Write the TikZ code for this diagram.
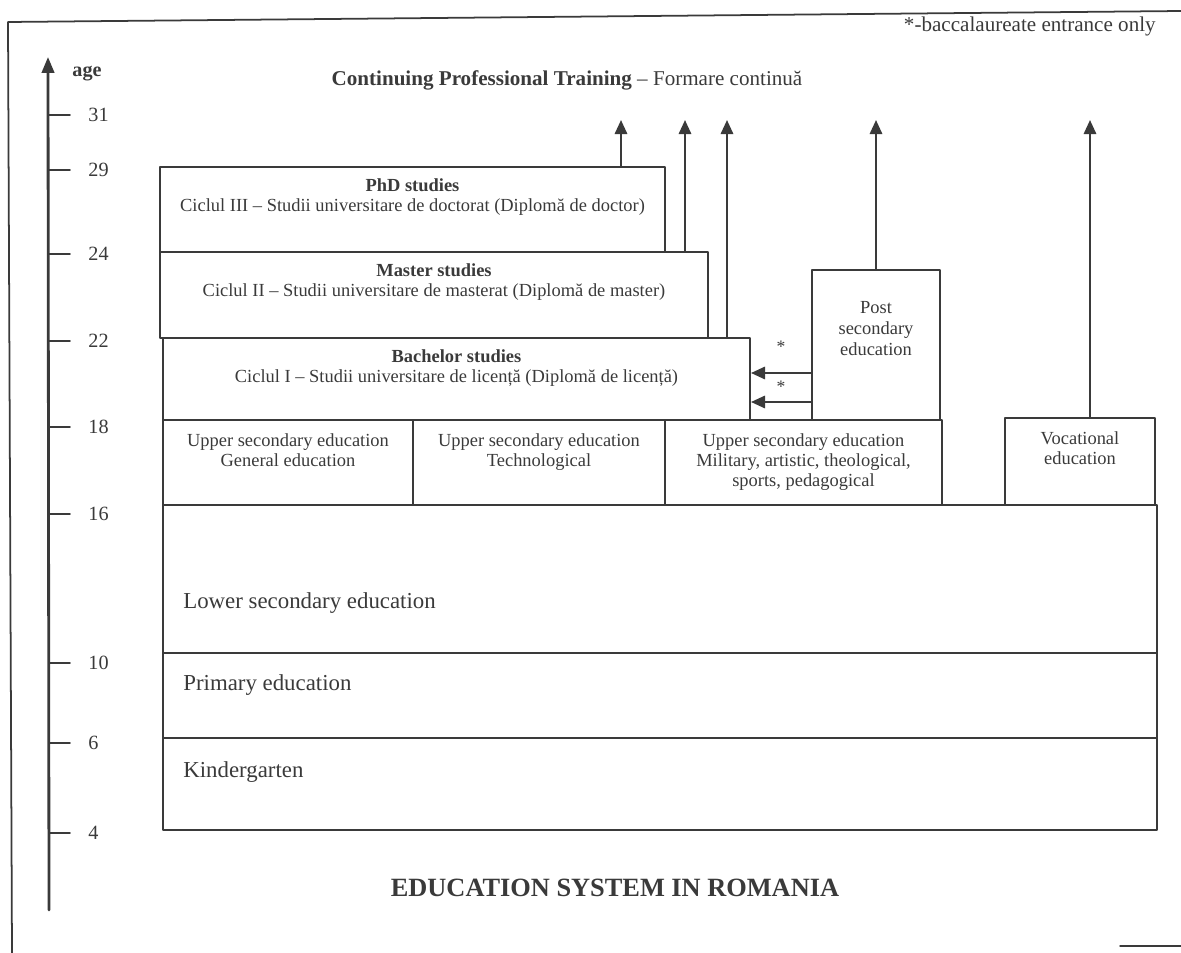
\documentclass[tikz,border=0pt]{standalone}
\usepackage{fontspec}
\setmainfont{Liberation Serif}
\usetikzlibrary{arrows.meta,positioning,fit}
\definecolor{ink}{HTML}{3A3A3A}
\tikzset{
  stage/.style={draw=ink, line width=1.1pt, inner sep=0pt},
  txt/.style={font=\fontsize{10.5}{11.5}\selectfont, align=center, inner sep=0pt, anchor=north, text=ink},
  big/.style={font=\fontsize{13}{15}\selectfont, inner sep=0pt, anchor=west, text=ink},
  up/.style={draw=ink, line width=1.3pt, -{Triangle[width=7pt,length=8pt]}},
  agetick/.style={font=\fontsize{11.5}{13}\selectfont, inner sep=0pt, text=ink}
}
\begin{document}
\begin{tikzpicture}[x=0.02cm, y=-0.02cm, line join=round, line cap=round]
\useasboundingbox (0,0) rectangle (1181,953);
% frame of the scanned page
\draw[ink, line width=1pt] (1181,11) -- (8,22) -- (12,953);
\draw[ink, line width=0.8pt] (1120,946) -- (1181,946);
% age axis
\draw[ink, line width=1.6pt, -{Triangle[width=7pt,length=9pt]}] (49,910) -- (48,57);
\node[agetick] (agelbl) at (87,74) {\textbf{age}};
\foreach \y/\a in {115/31,170/29,254/24,341/22,427/18,514/16,663/10,743/6,833/4}
  \draw[ink, line width=1pt] (49,\y) -- (70,\y) node[agetick, right=10pt] (age\a) {\a};
% university
\node[stage, fit={(160,167)(665,252)}] (phd) {};
\node[stage, fit={(160,252)(708,338)}] (master) {};
\node[stage, fit={(163,338)(750,420)}] (bach) {};
\node[txt] (phdtxt) at ([yshift=-7pt]phd.north) {\textbf{PhD studies}\\Ciclul III – Studii universitare de doctorat (Diplomă de doctor)};
\node[txt] (mastertxt) at ([yshift=-7pt]master.north) {\textbf{Master studies}\\Ciclul II – Studii universitare de masterat (Diplomă de master)};
\node[txt] (bachtxt) at ([yshift=-7pt]bach.north) {\textbf{Bachelor studies}\\Ciclul I – Studii universitare de licență (Diplomă de licență)};
% post secondary and vocational
\node[stage, fit={(812,270)(940,420)}] (post) {};
\node[txt, font=\fontsize{10.5}{12}\selectfont] (posttxt) at ([yshift=-18pt]post.north) {Post\\secondary\\education};
\node[stage, fit={(1005,418)(1155,505)}] (voc) {};
\node[txt] (voctxt) at ([yshift=-8pt]voc.north) {Vocational\\education};
% upper secondary
\node[stage, fit={(163,420)(413,505)}] (usgen) {};
\node[stage, fit={(413,420)(665,505)}] (ustech) {};
\node[stage, fit={(665,420)(942,505)}] (usmil) {};
\node[txt] (usgentxt) at ([yshift=-8pt]usgen.north) {Upper secondary education\\General education};
\node[txt] (ustechtxt) at ([yshift=-8pt]ustech.north) {Upper secondary education\\Technological};
\node[txt] (usmiltxt) at ([yshift=-8pt]usmil.north) {Upper secondary education\\Military, artistic, theological,\\sports, pedagogical};
% compulsory levels
\node[stage, fit={(163,505)(1157,653)}] (lower) {};
\node[stage, fit={(163,653)(1157,738)}] (primary) {};
\node[stage, fit={(163,738)(1157,830)}] (kinder) {};
\node[big] (lowertxt) at (183,603) {Lower secondary education};
\node[big] (primarytxt) at (183,685) {Primary education};
\node[big] (kindertxt) at (183,772) {Kindergarten};
% continuing training arrows
\coordinate (top) at (0,120);
\draw[up] (phd.north -| 621,0) -- (top -| 621,0);
\draw[up] (master.north -| 685,0) -- (top -| 685,0);
\draw[up] (bach.north -| 727,0) -- (top -| 727,0);
\draw[up] (post.north) -- (post.north |- top);
\draw[up] (voc.north -| 1090,0) -- (top -| 1090,0);
% baccalaureate entrance
\draw[up] (post.west |- 0,373) -- node[above=11pt, text=ink, inner sep=0pt] (star1) {*} (bach.east |- 0,373);
\draw[up] (post.west |- 0,402) -- node[above=5pt, text=ink, inner sep=0pt] (star2) {*} (bach.east |- 0,402);
% titles
\node[text=ink, font=\fontsize{12}{14}\selectfont, inner sep=0pt] (cpt) at (567,80) {\textbf{Continuing Professional Training} – Formare continuă};
\node[text=ink, font=\fontsize{12}{14}\selectfont, inner sep=0pt, anchor=east] (note) at (1156,26) {*-baccalaureate entrance only};
\node[text=ink, font=\fontsize{15}{17}\selectfont\bfseries, inner sep=0pt] (title) at (615,888) {EDUCATION SYSTEM IN ROMANIA};
\end{tikzpicture}
\end{document}
